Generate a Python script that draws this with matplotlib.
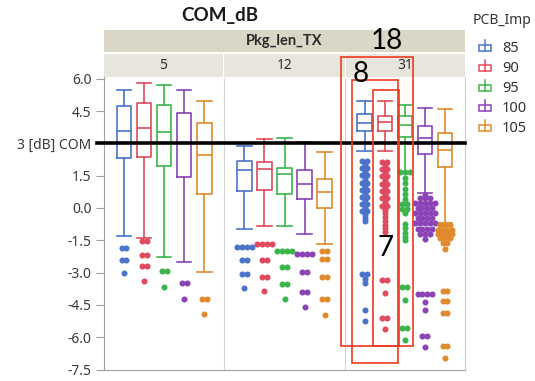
import numpy as np
import matplotlib.pyplot as plt
from matplotlib.patches import Rectangle

plt.rcParams['font.family'] = ['Noto Sans', 'DejaVu Sans']

# --- data ---
panels = ['5', '12', '31']
imps = ['85', '90', '95', '100', '105']
colors = ['#4a73c9', '#e04a5f', '#3db54f', '#8b43b5', '#e08a2d']

# (whislo, q1, median, q3, whishi) for each PCB_Imp
box_5 = [(-1.30, 2.31, 3.59, 4.73, 5.48),
         (-1.40, 2.38, 3.71, 4.89, 5.82),
         (-2.26, 1.96, 3.54, 4.78, 5.71),
         (-2.52, 1.42, 3.03, 4.42, 5.48),
         (-2.97, 0.64, 2.46, 3.93, 4.98)]
box_12 = [(-0.99, 0.79, 1.76, 2.18, 2.89),
          (-0.82, 0.84, 1.80, 2.15, 3.20),
          (-0.82, 0.65, 1.56, 1.84, 3.26),
          (-1.21, 0.42, 1.10, 1.76, 3.08),
          (-1.67, -0.02, 0.76, 1.33, 2.61)]
box_31 = [(2.64, 3.59, 3.96, 4.36, 4.98),
          (2.64, 3.59, 4.01, 4.28, 4.98),
          (1.69, 3.30, 3.85, 4.25, 4.78),
          (0.68, 2.52, 3.25, 3.82, 4.65),
          (-0.71, 1.92, 2.69, 3.47, 4.60)]

out_5 = [[-1.85, -1.85, -2.41, -2.41, -3.03],
         [-1.52, -1.52, -2.16, -2.16, -2.70, -2.70, -3.40],
         [-2.91, -2.91, -3.65],
         [-3.46, -3.46, -4.24],
         [-4.21, -4.21, -4.92]]
out_12 = [[-1.80, -1.80, -1.80, -1.80, -2.41, -2.41, -3.08, -3.08, -3.70],
          [-1.69, -1.69, -1.69, -1.69, -2.41, -2.41, -3.19, -3.19, -3.84],
          [-1.98, -1.98, -1.98, -1.98, -2.72, -2.72, -3.54, -3.54, -4.24],
          [-2.15, -2.15, -2.15, -2.15, -2.98, -2.98, -3.91, -3.91, -4.61],
          [-1.98, -1.98, -2.38, -2.38, -3.19, -3.19, -4.24, -4.24, -4.97]]
out_31 = [[2.20, 2.20, 2.02, 1.85, 1.85, 1.68, 1.52, 1.52, 1.35, 1.18, 1.18,
           1.00, 0.85, 0.85, 0.68, 0.52, 0.52, 0.35, 0.18, 0.18, 0.02,
           -0.15, -0.15, -0.32, -0.48, -0.62,
           -3.08, -3.08, -3.28, -3.50, -4.75, -5.25],
          [2.15, 2.15, 1.98, 1.82, 1.82, 1.65, 1.48, 1.48, 1.30, 1.12, 1.12,
           0.95, 0.78, 0.78, 0.62, 0.45, 0.45, 0.28, 0.10, 0.10, -0.08,
           -0.25, -0.42, -0.60, -0.78, -0.95, -1.10,
           -3.34, -3.34, -3.96, -5.12, -5.12, -5.63],
          [1.69, 1.69, 1.69, 1.40, 1.15, 0.90, 0.65, 0.40, 0.20, 0.20,
           -0.05, -0.05, -0.25, -0.75, -0.95, -1.15, -1.35, -1.48,
           -3.65, -3.65, -4.27, -5.58, -5.58, -6.12],
          [0.62, 0.45, 0.45, 0.45, 0.25, 0.25, 0.25, 0.25, 0.25,
           0.02, 0.02, 0.02, 0.02, -0.22, -0.22, -0.22, -0.22, -0.22,
           -0.48, -0.48, -0.48, -0.48, -0.72, -0.72, -0.72, -0.72, -0.72,
           -0.98, -0.98, -0.98, -0.98, -1.22, -1.22, -1.22, -1.42,
           -4.00, -4.00, -4.00, -4.00, -4.35, -4.73, -5.94, -5.94, -6.44],
          [-0.80, -0.80, -0.80, -1.00, -1.00, -1.00, -1.00, -1.20, -1.20,
           -1.20, -1.20, -1.40, -1.40, -1.40, -1.62, -1.62, -1.92,
           -3.84, -3.84, -4.32, -4.32, -4.89, -4.89, -6.40, -6.40, -6.98]]

box_stats = [box_5, box_12, box_31]
outliers = [out_5, out_12, out_31]

yticks = [6.0, 4.5, 3.0, 1.5, 0.0, -1.5, -3.0, -4.5, -6.0, -7.5]
ytick_labels = ['6.0', '4.5', '3 [dB] COM', '1.5', '0.0', '-1.5', '-3.0', '-4.5', '-6.0', '-7.5']

W, H = 535, 381
fig = plt.figure(figsize=(W / 100, H / 100), dpi=100)


def fa(x0, y0, x1, y1):
    # pixel box -> figure rect
    return [x0 / W, 1 - y1 / H, (x1 - x0) / W, (y1 - y0) / H]


ax = fig.add_axes(fa(104, 77.5, 465, 369.5))
ax.set_xlim(0, 3)
ax.set_ylim(-7.5, 6.06)

for i in range(3):
    for j in range(5):
        x = i + 0.5 + (j - 2) * 0.1667
        lo, q1, med, q3, hi = box_stats[i][j]
        c = colors[j]
        lp = dict(color=c, lw=1.2)
        ax.bxp([dict(whislo=lo, q1=q1, med=med, q3=q3, whishi=hi, fliers=[])],
               positions=[x], widths=0.12, capwidths=0.12, showfliers=False,
               manage_ticks=False, boxprops=lp, whiskerprops=lp, capprops=lp,
               medianprops=lp)
        vals, counts = np.unique(outliers[i][j], return_counts=True)
        for v, n in zip(vals, counts):
            offs = (np.arange(n) - (n - 1) / 2) * 0.04
            ax.scatter(x + offs, np.full(n, v), s=19, color=c, lw=0, zorder=3)

ax.plot([-0.055, 3], [3, 3], color='black', lw=2.6, clip_on=False, zorder=4)
for xd in (1, 2):
    ax.axvline(xd, color='#d6d6d6', lw=0.8, zorder=0)

ax.set_xticks([])
ax.set_yticks(yticks)
ax.set_yticklabels(ytick_labels, fontsize=10, color='#3a3a3a')
ax.tick_params(axis='y', length=5.5, pad=3.5, color='#a0a0a0', width=0.8)
ax.spines['top'].set_visible(False)
ax.spines['left'].set_color('#a0a0a0')
ax.spines['bottom'].set_color('#a0a0a0')
ax.spines['right'].set_color('#cfcfcf')

bold_fam = ['Lato', 'DejaVu Sans']

# header strips
h1 = fig.add_axes(fa(104, 30, 465, 52))
h1.set_facecolor('#dad7c6')
h1.set_xticks([]); h1.set_yticks([])
for s in h1.spines.values():
    s.set_visible(False)
h1.text(0.5, 0.5, 'Pkg_len_TX', ha='center', va='center', fontsize=10.5,
        fontweight='bold', family=bold_fam, color='#2b2b2b', transform=h1.transAxes)

for (x0, x1), lab in zip([(104, 222.5), (224, 344.5), (346, 465)], panels):
    h2 = fig.add_axes(fa(x0, 53.5, x1, 77))
    h2.set_facecolor('#e8e6dc')
    h2.set_xticks([]); h2.set_yticks([])
    for s in h2.spines.values():
        s.set_visible(False)
    h2.text(0.5, 0.5, lab, ha='center', va='center', fontsize=10,
            color='#2b2b2b', transform=h2.transAxes)

fig.text(220 / W, 1 - 16 / H, 'COM_dB', ha='center', va='center',
         fontsize=13.5, fontweight='bold', family=bold_fam, color='#1a1a1a')

# overlay in pixel coords: legend and red annotations
ov = fig.add_axes([0, 0, 1, 1], zorder=10)
ov.set_xlim(0, W)
ov.set_ylim(H, 0)
ov.axis('off')
ov.patch.set_alpha(0)

ov.text(473, 21, 'PCB_Imp', ha='left', va='center', fontsize=10, color='#333333')
for k, (lab, c) in enumerate(zip(imps, colors)):
    y = 48 + 20 * k
    ov.add_patch(Rectangle((479, y - 3), 12, 6, fill=False, ec=c, lw=1.1))
    ov.plot([485, 485], [y - 8, y + 3], color=c, lw=1.1)
    ov.text(502, y, lab, ha='left', va='center', fontsize=10.5, color='#333333')

red = '#f03a1e'
for (x0, y0, x1, y1) in [(341, 57, 413, 346), (352, 80, 398, 363), (373, 90, 399, 346)]:
    ov.add_patch(Rectangle((x0, y0), x1 - x0, y1 - y0, fill=False, ec=red, lw=1.2))
ov.text(387, 41, '18', ha='center', va='center', fontsize=20, family='Lato', color='black')
ov.text(361, 74, '8', ha='center', va='center', fontsize=20, family='Lato', color='black')
ov.text(386, 248, '7', ha='center', va='center', fontsize=20, family='Lato', color='black')

fig.savefig('out.png', dpi=100)
